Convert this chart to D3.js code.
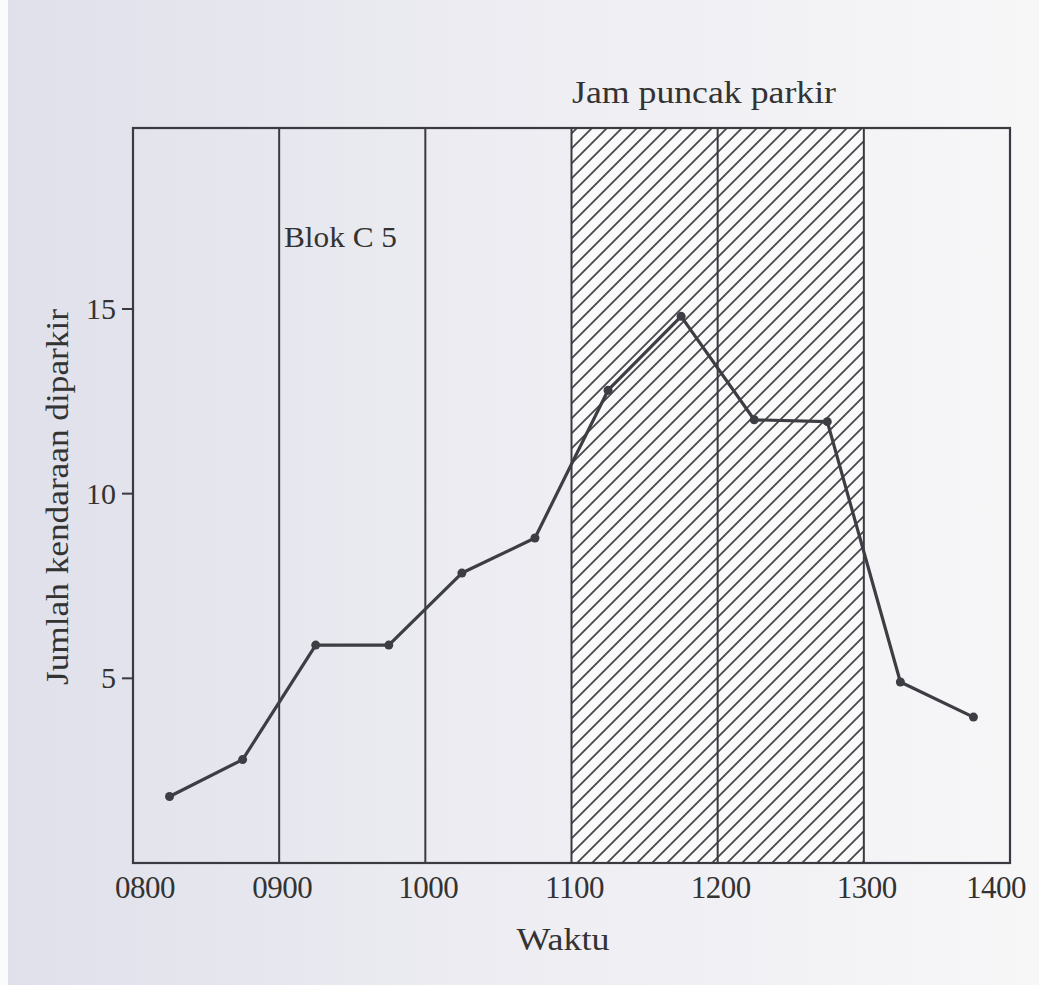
<!DOCTYPE html>
<html>
<head>
<meta charset="utf-8">
<script src="https://cdn.jsdelivr.net/npm/d3@7"></script>
<style>
  body{margin:0;background:#eeeef2;}
  svg{display:block;}
  text{font-family:"Liberation Serif","DejaVu Serif",serif;fill:#333;}
</style>
</head>
<body>
<script>
// jam (desimal) dan jumlah kendaraan yang diparkir
const waktu = [8.25, 8.75, 9.25, 9.75, 10.25, 10.75, 11.25, 11.75, 12.25, 12.75, 13.25, 13.75]
const jumlah = [1.8, 2.8, 5.9, 5.9, 7.85, 8.8, 12.8, 14.8, 12.0, 11.95, 4.9, 3.95]
const jamTicks = [8, 9, 10, 11, 12, 13, 14]
const jamLabels = ["0800", "0900", "1000", "1100", "1200", "1300", "1400"]
const yTicks = [5, 10, 15]
const garisJam = [9, 10, 11, 12, 13]
const puncak = [11, 13]

const W = 1039, H = 985
const x = d3.scaleLinear().domain([8, 14]).range([133, 1010])
const y = d3.scaleLinear().domain([0, 19.9]).range([863, 128])

const svg = d3.select("body").append("svg").attr("width", W).attr("height", H)
const defs = svg.append("defs")

let grad = defs.append("linearGradient").attr("id", "kertas")
  .attr("x1", "0").attr("x2", "1").attr("y1", "0").attr("y2", "0")
grad.append("stop").attr("offset", "0").attr("stop-color", "#dfe0ea")
grad.append("stop").attr("offset", "0.45").attr("stop-color", "#ececf2")
grad.append("stop").attr("offset", "1").attr("stop-color", "#f7f7f8")

let pat = defs.append("pattern").attr("id", "arsir")
  .attr("patternUnits", "userSpaceOnUse").attr("width", 15).attr("height", 15)
pat.append("rect").attr("width", 15).attr("height", 15).attr("fill", "#fafafa")
pat.append("path")
  .attr("d", "M0,15 L15,0 M-4,4 L4,-4 M11,19 L19,11")
  .attr("stroke", "#48484e").attr("stroke-width", 1.8)

svg.append("rect").attr("width", W).attr("height", H).attr("fill", "url(#kertas)")
// tepi kertas hasil scan
svg.append("rect").attr("width", 8).attr("height", H).attr("fill", "#fbfbfb")

// area jam puncak
svg.append("rect")
  .attr("x", x(puncak[0])).attr("y", y(19.9))
  .attr("width", x(puncak[1]) - x(puncak[0]))
  .attr("height", y(0) - y(19.9))
  .attr("fill", "url(#arsir)")

// garis jam
svg.selectAll(".jam").data(garisJam).join("line")
  .attr("class", "jam")
  .attr("x1", d => x(d)).attr("x2", d => x(d))
  .attr("y1", y(19.9)).attr("y2", y(0))
  .attr("stroke", "#3a3a40").attr("stroke-width", 2)

// bingkai
svg.append("rect")
  .attr("x", x(8)).attr("y", y(19.9))
  .attr("width", x(14) - x(8)).attr("height", y(0) - y(19.9))
  .attr("fill", "none").attr("stroke", "#3a3a40").attr("stroke-width", 2.2)

// sumbu y
svg.selectAll(".ytick").data(yTicks).join("line")
  .attr("class", "ytick")
  .attr("x1", x(8) - 11).attr("x2", x(8))
  .attr("y1", d => y(d)).attr("y2", d => y(d))
  .attr("stroke", "#3a3a40").attr("stroke-width", 2)
svg.selectAll(".ylab").data(yTicks).join("text")
  .attr("class", "ylab")
  .attr("x", x(8) - 17).attr("y", d => y(d) + 10)
  .attr("text-anchor", "end").attr("font-size", 30)
  .text(d => d)

// label sumbu x
svg.selectAll(".xlab").data(jamTicks).join("text")
  .attr("class", "xlab")
  .attr("x", (d, i) => x(d) + (i === 0 ? 12 : i === jamTicks.length - 1 ? -14 : 3))
  .attr("y", 898).attr("text-anchor", "middle").attr("font-size", 31)
  .attr("letter-spacing", -0.5)
  .text((d, i) => jamLabels[i])

svg.append("text").attr("x", 563).attr("y", 950)
  .attr("text-anchor", "middle").attr("font-size", 31)
  .attr("textLength", 93).attr("lengthAdjust", "spacingAndGlyphs")
  .text("Waktu")

svg.append("text")
  .attr("transform", "translate(68,497) rotate(-90)")
  .attr("text-anchor", "middle").attr("font-size", 31)
  .attr("textLength", 376).attr("lengthAdjust", "spacingAndGlyphs")
  .text("Jumlah kendaraan diparkir")

svg.append("text").attr("x", 284).attr("y", 247)
  .attr("font-size", 29)
  .attr("textLength", 113).attr("lengthAdjust", "spacingAndGlyphs")
  .text("Blok C 5")

svg.append("text").attr("x", 572).attr("y", 103)
  .attr("font-size", 31)
  .attr("textLength", 264).attr("lengthAdjust", "spacingAndGlyphs")
  .text("Jam puncak parkir")

// garis data
const titik = waktu.map((t, i) => ({t: t, v: jumlah[i]}))
const garis = d3.line().x(d => x(d.t)).y(d => y(d.v))
svg.append("path").datum(titik)
  .attr("d", garis)
  .attr("fill", "none").attr("stroke", "#3d3d44")
  .attr("stroke-width", 3.2).attr("stroke-linejoin", "round")
svg.selectAll(".titik").data(titik).join("circle")
  .attr("class", "titik")
  .attr("cx", d => x(d.t)).attr("cy", d => y(d.v))
  .attr("r", 4.5).attr("fill", "#3d3d44")
</script>
</body>
</html>
